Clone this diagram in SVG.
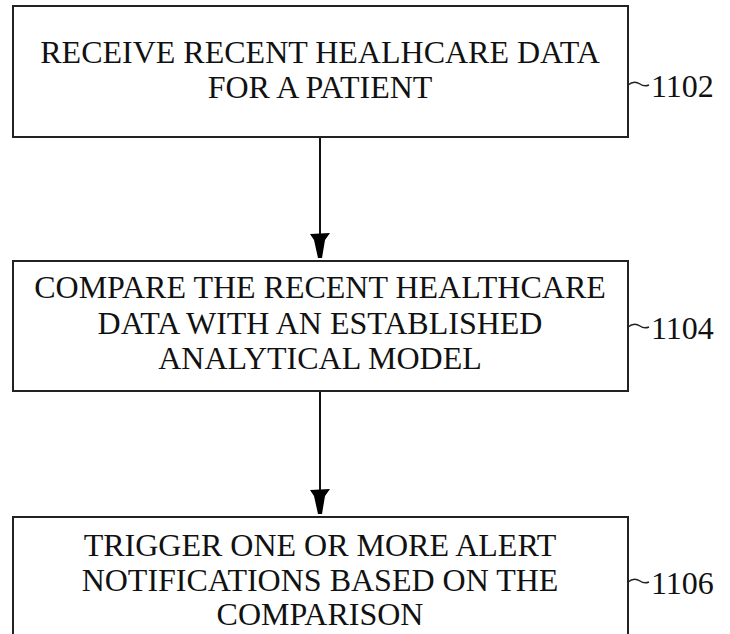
<svg xmlns="http://www.w3.org/2000/svg" width="730" height="634" viewBox="0 0 730 634">
<style>
.box{fill:#fff;stroke:#222;stroke-width:2}
.t{font-family:"Liberation Serif",serif;font-size:32px;fill:#111;text-anchor:middle}
.lbl{font-family:"Liberation Serif",serif;font-size:32px;fill:#111}
.lead{fill:none;stroke:#222;stroke-width:1.5}
.conn{stroke:#111;stroke-width:2;fill:none}
.head{fill:#000}
</style>
<rect width="730" height="634" fill="#fff"/>
<g id="connectors">
<line class="conn" x1="320" y1="137" x2="320" y2="236"/>
<path class="head" d="M310,234 L330,233 L325,240 L322,258 L318,258 L314,240 Z"/>
<line class="conn" x1="320" y1="391" x2="320" y2="492"/>
<path class="head" d="M310,490 L330,489 L325,496 L322,514 L318,514 L314,496 Z"/>
</g>
<g id="n1102">
<rect class="box" x="13" y="6" width="615" height="131"/>
<text class="t" x="320" y="63">RECEIVE RECENT HEALHCARE DATA</text>
<text class="t" x="320" y="98">FOR A PATIENT</text>
<path class="lead" d="M628,85 q6,-5 12,-1 q4,3 9,1"/>
<text class="lbl" x="651" y="97">1102</text>
</g>
<g id="n1104">
<rect class="box" x="13" y="261" width="615" height="130"/>
<text class="t" x="320" y="298">COMPARE THE RECENT HEALTHCARE</text>
<text class="t" x="320" y="334">DATA WITH AN ESTABLISHED</text>
<text class="t" x="320" y="369">ANALYTICAL MODEL</text>
<path class="lead" d="M628,327 q6,-5 12,-1 q4,3 9,1"/>
<text class="lbl" x="651" y="339">1104</text>
</g>
<g id="n1106">
<rect class="box" x="13" y="517" width="615" height="130"/>
<text class="t" x="320" y="556">TRIGGER ONE OR MORE ALERT</text>
<text class="t" x="320" y="591">NOTIFICATIONS BASED ON THE</text>
<text class="t" x="320" y="625">COMPARISON</text>
<path class="lead" d="M628,582 q6,-5 12,-1 q4,3 9,1"/>
<text class="lbl" x="651" y="594">1106</text>
</g>
</svg>
